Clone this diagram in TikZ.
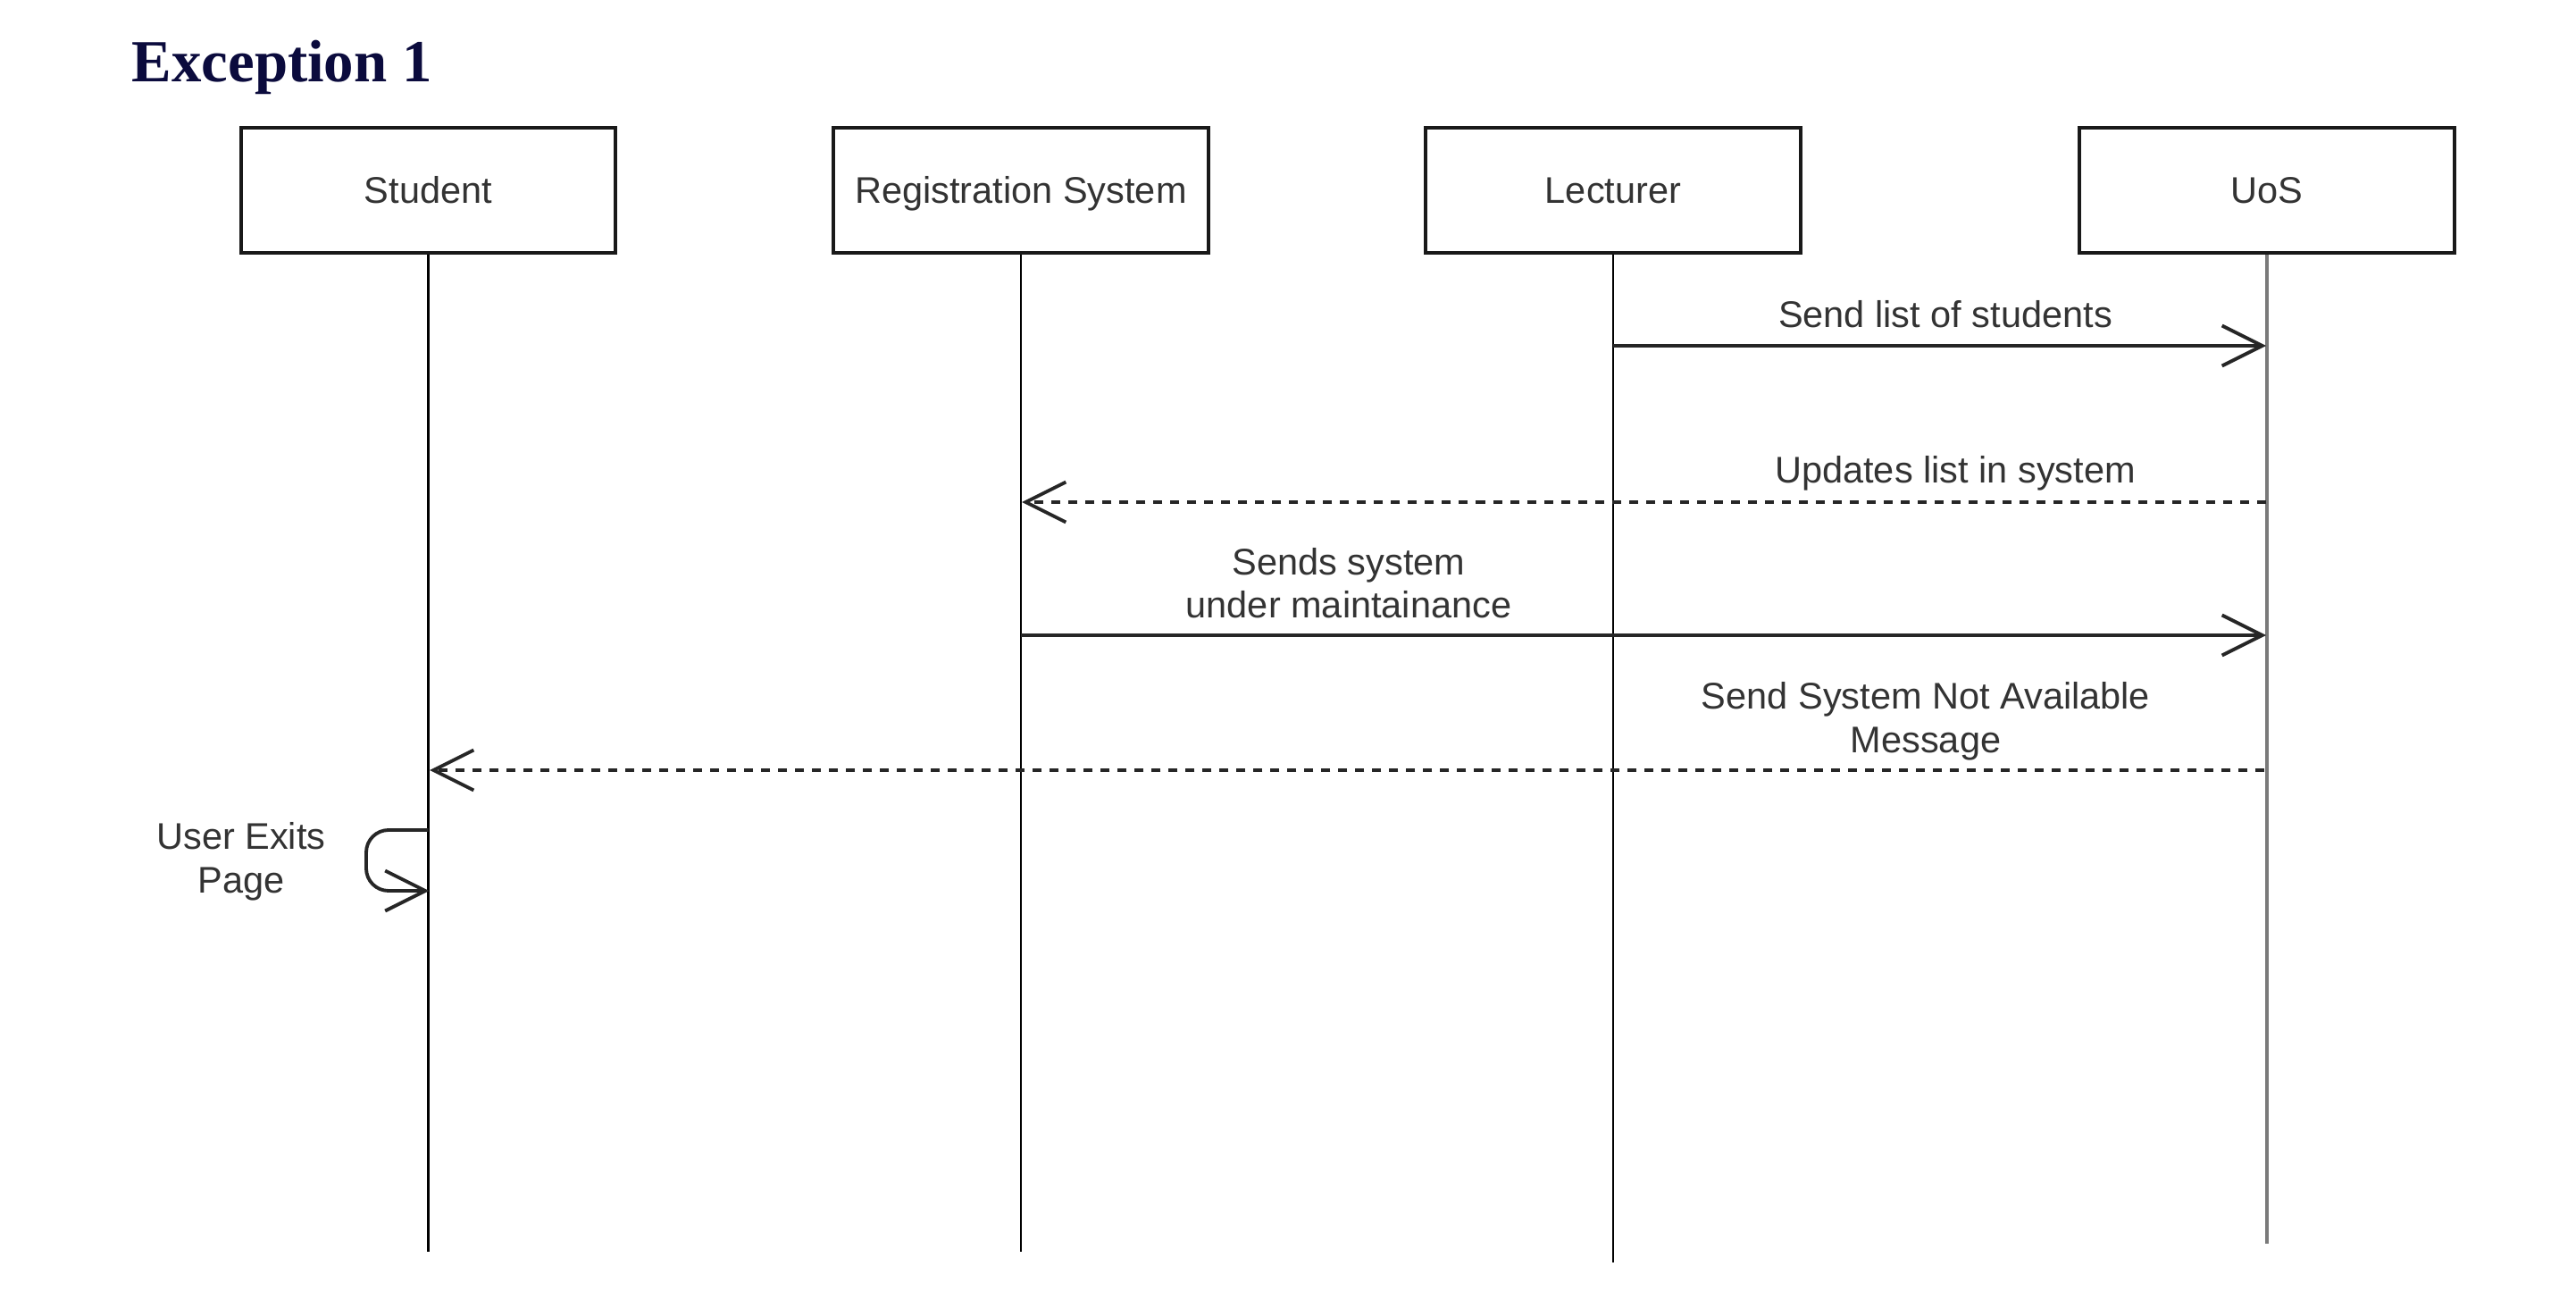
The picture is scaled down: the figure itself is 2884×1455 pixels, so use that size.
\documentclass[tikz,border=0pt]{standalone}
\usepackage{fontspec}
\setmainfont{Liberation Sans}
\newfontfamily\titlefont{Liberation Serif}
\usetikzlibrary{arrows.meta}
\definecolor{titlenavy}{HTML}{0B0B3D}
\definecolor{txtgray}{HTML}{333333}
\definecolor{uosgray}{HTML}{7A7A7A}
\begin{document}
\begin{tikzpicture}[x=0.01cm,y=-0.01cm,
  actor/.style={draw=black!90,line width=1.1pt,fill=white,minimum width=4.19cm,minimum height=1.40cm,inner sep=0pt,text=txtgray,font=\fontsize{11.8}{13.7}\selectfont,text height=8.5pt,text depth=0pt},
  life/.style={line width=0.7pt,draw=black},
  msg/.style={line width=1.1pt,draw=black!85,-{Straight Barb[length=0.45cm,width=0.45cm]}},
  reply/.style={msg,dash pattern=on 0.10cm off 0.09cm},
  lbl/.style={text=txtgray,font=\fontsize{11.8}{13.7}\selectfont,align=center,inner sep=0pt,anchor=base},
]
\useasboundingbox (0,0) rectangle (2884,1455);
\fill[white] (0,0) rectangle (2884,1455);

% title
\node[anchor=base west,inner sep=0pt,text=titlenavy,font=\titlefont\bfseries\fontsize{19}{23}\selectfont] (title) at (147,92) {Exception 1};

% actors
\node[actor] (stu) at (479.5,213) {Student};
\node[actor] (reg) at (1143,213) {Registration System};
\node[actor] (lec) at (1806,213) {Lecturer};
\node[actor] (uos) at (2538,213) {UoS};

% lifeline ends
\coordinate (stuEnd) at (479.5,1401);
\coordinate (regEnd) at (1143,1401);
\coordinate (lecEnd) at (1806,1413);
\coordinate (uosEnd) at (2538,1392);

\draw[life] (stu.south) -- (stuEnd);
\draw[life] (reg.south) -- (regEnd);
\draw[life] (lec.south) -- (lecEnd);
\draw[line width=1.3pt,draw=uosgray] (uos.south) -- (uosEnd);

% message end points on lifelines
\coordinate (m1s) at (1806,387);  \coordinate (m1e) at (2537,387);
\coordinate (m2s) at (2537,562);  \coordinate (m2e) at (1144,562);
\coordinate (m3s) at (1143,711);  \coordinate (m3e) at (2537,711);
\coordinate (m4s) at (2535,862);  \coordinate (m4e) at (481,862);
\coordinate (m5s) at (479.5,929); \coordinate (m5e) at (480.5,997);

% messages
\draw[msg] (m1s) -- (m1e);
\draw[reply] (m2s) -- (m2e);
\draw[msg] (m3s) -- (m3e);
\draw[reply] (m4s) -- (m4e);
\draw[msg,rounded corners=0.25cm] (m5s) -- (410,929) -- (410,997) -- (m5e);

% labels (base = baseline of the last line)
\node[lbl] (l1) at (2178,367) {Send list of students};
\node[lbl] (l2) at (2189,541) {Updates list in system};
\node[lbl] (l3) at (1510,692) {Sends system\\under maintainance};
\node[lbl] (l4) at (2156,842) {Send System Not Available\\Message};
\node[lbl] (l5) at (270,999) {User Exits\\Page};
\end{tikzpicture}
\end{document}
